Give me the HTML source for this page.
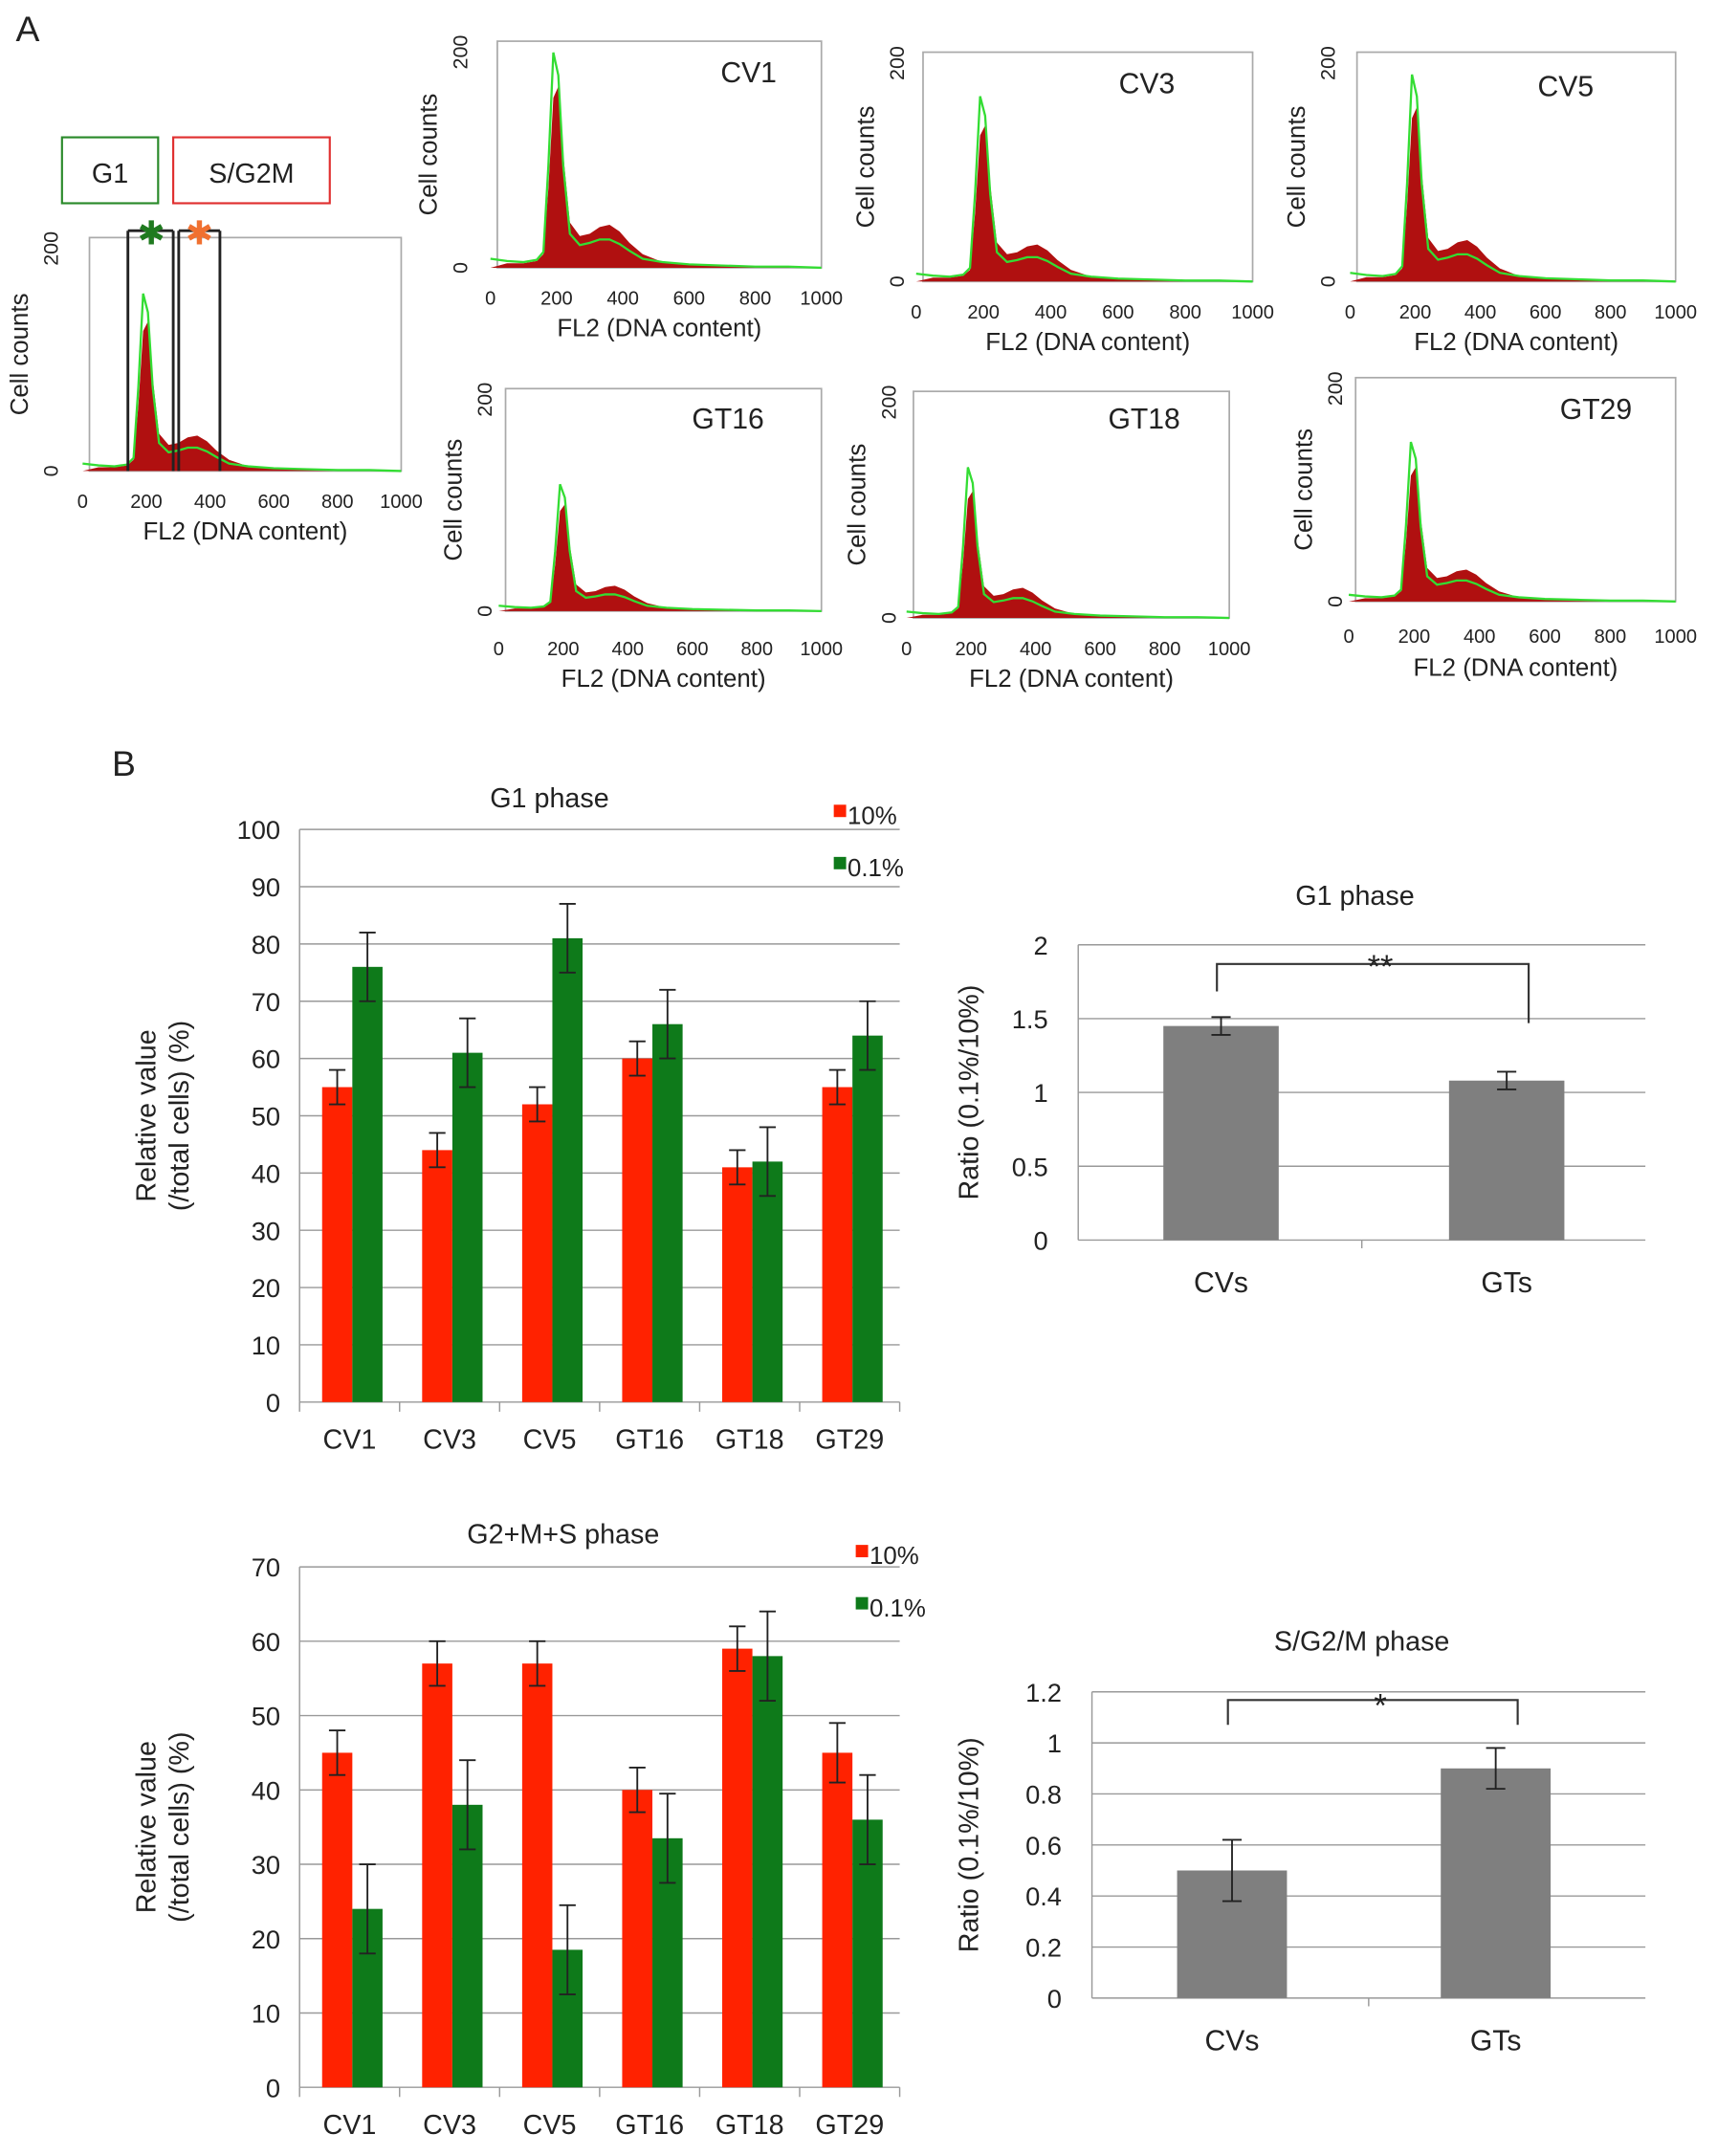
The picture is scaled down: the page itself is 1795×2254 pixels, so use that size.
<!DOCTYPE html>
<html><head><meta charset="utf-8"><style>
html,body{margin:0;padding:0;background:#fff}
svg{display:block}
text{font-family:"Liberation Sans",Arial,sans-serif;fill:#222}
</style></head><body>
<svg id="fig" width="1795" height="2254" viewBox="0 0 1250 1570" xmlns="http://www.w3.org/2000/svg"></svg>
<script>
// ---- Data ----
const cats = ["CV1","CV3","CV5","GT16","GT18","GT29"];
const g1Red = [55,44,52,60,41,55];
const g1RedErr = [3,3,3,3,3,3];
const g1Green = [76,61,81,66,42,64];
const g1GreenErr = [6,6,6,6,6,6];
const g1Ticks = [0,10,20,30,40,50,60,70,80,90,100];
const sRed = [45,57,57,40,59,45];
const sRedErr = [3,3,3,3,3,4];
const sGreen = [24,38,18.5,33.5,58,36];
const sGreenErr = [6,6,6,6,6,6];
const sTicks = [0,10,20,30,40,50,60,70];
const ratioCats = ["CVs","GTs"];
const ratioG1 = [1.45,1.08];
const ratioG1Err = [0.06,0.06];
const ratioG1Ticks = [0,0.5,1,1.5,2];
const ratioS = [0.5,0.9];
const ratioSErr = [0.12,0.08];
const ratioSTicks = [0,0.2,0.4,0.6,0.8,1,1.2];
const histX = [0,50,100,140,160,175,190,205,220,240,270,300,330,360,390,420,460,520,600,700,800,900,1000];
const histRed = [0,4,4,6,12,70,150,160,100,40,28,30,36,38,32,22,12,5,3,2,1,1,0];
const histGreen = [8,6,5,7,14,90,190,170,90,30,20,22,25,25,21,15,8,5,3,2,1,1,0];
const xTicks = [0,200,400,600,800,1000];

const NS="http://www.w3.org/2000/svg";
const svg=document.getElementById('fig');
function el(tag,attrs,parent){const e=document.createElementNS(NS,tag);for(const k in attrs)e.setAttribute(k,attrs[k]);(parent||svg).appendChild(e);return e;}
function txt(x,y,s,size,anchor,parent,rot){const t=el('text',{x:x,y:y,'font-size':size,'text-anchor':anchor||'middle'},parent);if(rot)t.setAttribute('transform',`rotate(-90 ${x} ${y})`);t.textContent=s;return t;}

// ---- Panel A histograms ----
const hists=[
 {n:"gate",x0:65,x1:292,y0:173,y1:343,ty:370,ly:393,cx:20,label:null,scaleY:0.8},
 {n:"CV1",x0:362,x1:598,y0:30,y1:195,ty:222,ly:245,cx:318,label:"CV1",lx:545,lyy:60,scaleY:1.0},
 {n:"CV3",x0:672,x1:912,y0:38,y1:205,ty:232,ly:255,cx:636,label:"CV3",lx:835,lyy:68,scaleY:0.85},
 {n:"CV5",x0:988,x1:1220,y0:38,y1:205,ty:232,ly:255,cx:950,label:"CV5",lx:1140,lyy:70,scaleY:0.95},
 {n:"GT16",x0:368,x1:598,y0:283,y1:445,ty:477,ly:500,cx:336,label:"GT16",lx:530,lyy:312,scaleY:0.6},
 {n:"GT18",x0:665,x1:895,y0:285,y1:450,ty:477,ly:500,cx:630,label:"GT18",lx:833,lyy:312,scaleY:0.7},
 {n:"GT29",x0:987,x1:1220,y0:275,y1:438,ty:468,ly:492,cx:955,label:"GT29",lx:1162,lyy:305,scaleY:0.75}
];
hists.forEach(h=>{
 const g=el('g',{});
 
 
 el('rect',{x:h.x0,y:h.y0,width:h.x1-h.x0,height:h.y1-h.y0,fill:'none',stroke:'#aaa','stroke-width':1.2},g);
 const sx=v=>h.x0-5+(v/1000)*(h.x1-h.x0+5);
 const sy=v=>h.y1-(v/200)*(h.y1-h.y0);
 let d=`M${sx(0)},${h.y1}`;
 histX.forEach((v,i)=>{d+=` L${sx(v)},${sy(histRed[i]*h.scaleY)}`;});
 d+=` L${sx(1000)},${h.y1} Z`;
 el('path',{d:d,fill:'#b01010'},g);
 let d2='';
 histX.forEach((v,i)=>{d2+=(i?' L':'M')+sx(v)+','+sy(Math.min(200,histGreen[i]*h.scaleY));});
 el('path',{d:d2,fill:'none',stroke:'#33dd33','stroke-width':1.6},g);
 xTicks.forEach(t=>txt(sx(t),h.ty,String(t),14,'middle',g));
 txt((h.x0+h.x1)/2,h.ly,"FL2 (DNA content)",18,'middle',g);
 txt(h.cx,(h.y0+h.y1)/2,"Cell counts",18,'middle',g,true);
 txt(h.cx+22,h.y1,"0",15,'middle',g,true);
 txt(h.cx+22,h.y0+8,"200",15,'middle',g,true);
 if(h.label) txt(h.lx,h.lyy,h.label,21,'middle',g);
});
txt(20,30,"A",26,'middle');
// gates
el('rect',{x:45,y:100,width:70,height:48,fill:'none',stroke:'#2a8a2a','stroke-width':1.5});
txt(80,133,"G1",20,'middle');
el('rect',{x:126,y:100,width:114,height:48,fill:'none',stroke:'#e03030','stroke-width':1.5});
txt(183,133,"S/G2M",20,'middle');
[93,126,130,160].forEach(x=>el('line',{x1:x,y1:168,x2:x,y2:343,stroke:'#222','stroke-width':2}));
el('line',{x1:93,y1:168,x2:126,y2:168,stroke:'#222','stroke-width':2});
el('line',{x1:130,y1:168,x2:160,y2:168,stroke:'#222','stroke-width':2});
txt(110,178,"✱",24,'middle').setAttribute('style','fill:#1f7a1f');
txt(145,178,"✱",24,'middle').setAttribute('style','fill:#f07030');

txt(90,565,"B",26,'middle');

// ---- Grouped bar charts ----
function groupChart(name,title,titleX,titleY,x0,x1,yBot,yTop,ymax,ticks,red,redE,green,greenE,legX,legY){
 const g=el('g',{});
 
 
 const sy=v=>yBot-(v/ymax)*(yBot-yTop);
 ticks.forEach(t=>{
  el('line',{x1:x0,y1:sy(t),x2:x1,y2:sy(t),stroke:'#999','stroke-width':1},g);
  txt(x0-14,sy(t)+7,String(t),19,'end',g);
 });
 el('line',{x1:x0,y1:yTop,x2:x0,y2:yBot,stroke:'#999','stroke-width':1},g);
 const gw=(x1-x0)/cats.length, bw=22;
 cats.forEach((c,i)=>{
  const cx=x0+gw*(i+0.5)+2;
  const r=el('rect',{x:cx-bw,y:sy(red[i]),width:bw,height:yBot-sy(red[i]),fill:'#ff2200'},g);
  
  
  const gr=el('rect',{x:cx,y:sy(green[i]),width:bw,height:yBot-sy(green[i]),fill:'#0e7a1a'},g);
  
  
  [[cx-bw/2,red[i],redE[i]],[cx+bw/2,green[i],greenE[i]]].forEach(([ex,v,e])=>{
   el('line',{x1:ex,y1:sy(v-e),x2:ex,y2:sy(v+e),stroke:'#222','stroke-width':1.3},g);
   el('line',{x1:ex-6,y1:sy(v+e),x2:ex+6,y2:sy(v+e),stroke:'#222','stroke-width':1.3},g);
   el('line',{x1:ex-6,y1:sy(v-e),x2:ex+6,y2:sy(v-e),stroke:'#222','stroke-width':1.3},g);
  });
  txt(x0+gw*(i+0.5),yBot+34,c,20,'middle',g);
 });
 for(let i=0;i<=cats.length;i++) el('line',{x1:x0+gw*i,y1:yBot,x2:x0+gw*i,y2:yBot+7,stroke:'#999'},g);
 txt(titleX,titleY,title,20,'middle',g);
 el('rect',{x:legX,y:legY-12,width:9,height:9,fill:'#ff2200'},g);
 txt(legX+10,legY+2,"10%",18,'start',g);
 el('rect',{x:legX,y:legY+26,width:9,height:9,fill:'#0e7a1a'},g);
 txt(legX+10,legY+40,"0.1%",18,'start',g);
 const my=(yTop+yBot)/2;
 txt(113,my,"Relative value",20,'middle',g,true);
 txt(137,my,"(/total cells) (%)",20,'middle',g,true);
}
groupChart('g1-phase-chart',"G1   phase",400,588,218,655,1021,604,100,g1Ticks,g1Red,g1RedErr,g1Green,g1GreenErr,607,598);
groupChart('g2ms-phase-chart',"G2+M+S   phase",410,1124,218,655,1520,1141,70,sTicks,sRed,sRedErr,sGreen,sGreenErr,623,1137);

// ---- Ratio charts ----
function ratioChart(name,title,titleY,x0,x1,yBot,yTop,ymax,ticks,vals,errs,centers,bw,brY,stars,leftDrop,rightDrop,starY){
 const g=el('g',{});
 
 
 const sy=v=>yBot-(v/ymax)*(yBot-yTop);
 ticks.forEach(t=>{
  el('line',{x1:x0,y1:sy(t),x2:x1,y2:sy(t),stroke:'#999','stroke-width':1},g);
  txt(x0-22,sy(t)+7,String(t),19,'end',g);
 });
 el('line',{x1:x0,y1:yTop,x2:x0,y2:yBot,stroke:'#999'},g);
 ratioCats.forEach((c,i)=>{
  const cx=centers[i];
  const r=el('rect',{x:cx-bw/2,y:sy(vals[i]),width:bw,height:yBot-sy(vals[i]),fill:'#7f7f7f'},g);
  
  
  const v=vals[i],e=errs[i];
  el('line',{x1:cx,y1:sy(v-e),x2:cx,y2:sy(v+e),stroke:'#222','stroke-width':1.3},g);
  el('line',{x1:cx-7,y1:sy(v+e),x2:cx+7,y2:sy(v+e),stroke:'#222','stroke-width':1.3},g);
  el('line',{x1:cx-7,y1:sy(v-e),x2:cx+7,y2:sy(v-e),stroke:'#222','stroke-width':1.3},g);
  txt(cx,yBot+38,c,21,'middle',g);
 });
 el('line',{x1:(x0+x1)/2,y1:yBot,x2:(x0+x1)/2,y2:yBot+6,stroke:'#999'},g);
 el('path',{d:`M${centers[0]-3},${leftDrop} L${centers[0]-3},${brY} L${centers[1]+16},${brY} L${centers[1]+16},${rightDrop}`,fill:'none',stroke:'#333','stroke-width':1.5},g);
 txt((centers[0]+centers[1])/2+12,starY,stars,24,'middle',g);
 txt((x0+x1)/2-5,titleY,title,20,'middle',g);
 txt(712,(yTop+yBot)/2,"Ratio (0.1%/10%)",20,'middle',g,true);
}
ratioChart('g1-ratio-chart',"G1 phase",659,785,1198,903,688,2,ratioG1Ticks,ratioG1,ratioG1Err,[889,1097],84,702,"**",722,745,712);
ratioChart('sg2m-ratio-chart',"S/G2/M phase",1202,795,1198,1455,1232,1.2,ratioSTicks,ratioS,ratioSErr,[897,1089],80,1238,"*",1256,1256,1250);
</script>
</body></html>
